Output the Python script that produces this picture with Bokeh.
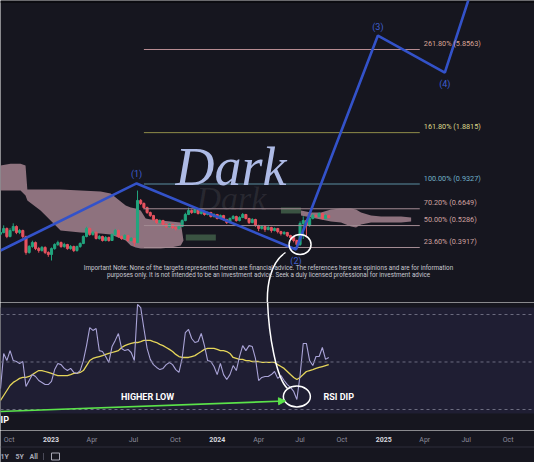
import math
import pandas as pd
from bokeh.plotting import figure
from bokeh.layouts import column
from bokeh.models import Range1d, Label, Span, BoxAnnotation, Arrow, NormalHead
from bokeh.embed import file_html
from bokeh.resources import INLINE

# ---------------- data ----------------
start_week = "2022-09-12"
open_first = 0.470
close = [0.481,0.508,0.455,0.494,0.522,0.481,0.494,0.455,0.366,0.397,
         0.419,0.386,0.376,0.392,0.366,0.356,0.386,0.408,0.419,0.397,
         0.408,0.386,0.397,0.376,0.397,0.414,0.455,0.508,0.468,0.481,
         0.443,0.455,0.431,0.449,0.431,0.468,0.494,0.455,0.443,0.461,
         0.431,0.443,0.419,0.745,0.715,0.676,0.632,0.606,0.574,0.551,
         0.566,0.536,0.522,0.536,0.515,0.508,0.522,0.566,0.615,0.649,
         0.632,0.658,0.623,0.640,0.615,0.632,0.598,0.615,0.582,0.606,
         0.574,0.551,0.582,0.598,0.566,0.590,0.615,0.582,0.551,0.574,
         0.529,0.508,0.522,0.501,0.515,0.494,0.508,0.487,0.474,0.481,
         0.461,0.449,0.431,0.408,0.544,0.566,0.529,0.582,0.606,0.598,
         0.623,0.582,0.606,0.590]
high = [0.50,0.53,0.515,0.51,0.545,0.53,0.505,0.50,0.46,0.405,
        0.43,0.425,0.395,0.40,0.398,0.372,0.392,0.415,0.43,0.425,
        0.418,0.412,0.405,0.402,0.402,0.42,0.462,0.52,0.515,0.49,
        0.488,0.465,0.46,0.458,0.455,0.475,0.505,0.50,0.462,0.47,
        0.466,0.452,0.448,0.853,0.76,0.725,0.685,0.64,0.612,0.58,
        0.575,0.572,0.545,0.545,0.542,0.522,0.53,0.575,0.63,0.675,
        0.66,0.67,0.665,0.65,0.648,0.64,0.638,0.625,0.62,0.615,
        0.612,0.58,0.59,0.61,0.605,0.60,0.628,0.62,0.588,0.585,
        0.58,0.535,0.53,0.528,0.525,0.52,0.515,0.512,0.492,0.49,
        0.485,0.466,0.455,0.436,0.56,0.60,0.575,0.595,0.62,0.615,
        0.632,0.63,0.615,0.612]
low = [0.46,0.475,0.445,0.45,0.488,0.47,0.47,0.445,0.355,0.36,
       0.39,0.378,0.365,0.37,0.358,0.345,0.328,0.38,0.40,0.39,
       0.39,0.38,0.38,0.368,0.37,0.39,0.41,0.45,0.46,0.46,
       0.437,0.436,0.425,0.426,0.424,0.428,0.462,0.448,0.435,0.438,
       0.425,0.426,0.40,0.415,0.70,0.66,0.62,0.595,0.565,0.54,
       0.545,0.528,0.51,0.515,0.505,0.495,0.50,0.518,0.56,0.61,
       0.62,0.625,0.615,0.615,0.605,0.608,0.59,0.59,0.575,0.578,
       0.565,0.54,0.545,0.575,0.558,0.56,0.585,0.575,0.54,0.545,
       0.52,0.49,0.50,0.485,0.495,0.48,0.488,0.475,0.462,0.465,
       0.452,0.44,0.42,0.383,0.40,0.44,0.45,0.52,0.575,0.59,
       0.592,0.575,0.578,0.585]
rsi = [38.8,53.6,50.6,54.8,50.6,50.2,49.4,50.2,39.7,42.2,
       44.7,43.9,42.2,41.4,40.5,40.5,41.8,46.8,49.4,48.9,
       47.3,46.4,47.3,45.6,45.2,46.4,50.6,56.9,64.5,63.3,
       64.1,54.8,54.4,52.3,49.8,56.5,59.1,62.0,55.7,54.8,
       55.3,54.0,50.6,74.2,72.9,64.1,55.7,51.1,48.9,47.7,
       46.8,47.3,48.9,49.8,48.9,46.8,45.6,51.5,62.4,63.7,
       59.9,58.2,58.6,62.0,56.9,50.6,50.2,48.1,44.7,49.4,
       44.7,42.6,44.7,48.5,46.4,52.3,56.9,54.8,56.9,56.5,
       51.5,42.2,43.5,43.9,43.9,44.7,46.0,43.1,44.3,42.2,
       40.5,39.3,37.6,34.2,44.3,57.8,57.8,50.6,48.5,52.3,
       52.3,56.1,51.1,51.9]
rsi_ma = [33.8,35.9,38.0,40.1,41.4,42.2,43.1,43.5,43.5,43.9,
          44.7,45.6,46.4,46.4,46.0,45.6,45.2,44.7,44.3,44.3,
          44.3,44.3,44.7,45.2,45.2,45.6,46.4,48.5,50.6,51.5,
          51.9,52.3,52.7,53.2,53.6,54.0,54.4,54.8,56.1,56.9,
          57.4,57.8,58.2,58.2,58.6,59.1,59.1,59.1,58.6,58.2,
          57.4,56.9,56.1,55.3,54.4,53.2,52.3,51.9,51.9,51.9,
          52.3,52.7,53.6,54.4,55.3,55.7,55.7,55.7,55.3,54.8,
          54.8,54.4,53.6,51.9,51.5,51.1,51.1,50.6,50.6,50.2,
          50.2,50.2,49.8,49.8,49.8,49.8,49.8,48.9,48.1,47.3,
          46.0,44.7,43.5,42.6,43.5,44.7,46.0,46.4,46.8,47.3,
          47.7,48.1,48.5,48.9]

cloud_a_dates = ["2022-09-12","2022-10-04","2022-10-26","2022-11-06","2022-11-10","2022-12-09",
                 "2023-01-22","2023-03-07","2023-04-20","2023-05-12","2023-05-23","2023-06-14",
                 "2023-06-25","2023-07-06","2023-07-17","2023-07-28","2023-08-08","2023-08-30",
                 "2023-09-21","2023-10-13","2023-10-19"]
cloud_a_upper = [1.20,1.23,1.23,1.20,0.865,0.865,0.865,0.853,0.842,0.819,0.776,0.695,
                 0.676,0.667,0.649,0.582,0.574,0.566,0.559,0.551,0.431]
cloud_a_lower = [0.853,0.853,0.853,0.797,0.745,0.649,0.494,0.481,0.474,0.468,0.455,0.431,
                 0.403,0.392,0.386,0.386,0.386,0.386,0.392,0.403,0.431]
cloud_b_dates = ["2024-07-03","2024-07-25","2024-08-16","2024-09-07","2024-09-29","2024-10-21",
                 "2024-11-01","2024-11-12","2024-12-04","2024-12-26","2025-01-17","2025-02-08",
                 "2025-03-02"]
cloud_b_upper = [0.649,0.632,0.632,0.658,0.667,0.667,0.658,0.632,0.606,0.598,0.598,0.598,0.590]
cloud_b_lower = [0.606,0.590,0.574,0.559,0.551,0.522,0.515,0.536,0.551,0.551,0.551,0.551,0.559]
cloud_g1_dates = ["2023-10-24","2023-12-29"]
cloud_g1_upper = [0.468,0.468]
cloud_g1_lower = [0.431,0.431]
cloud_g2_dates = ["2024-05-20","2024-07-03"]
cloud_g2_upper = [0.676,0.676]
cloud_g2_lower = [0.623,0.623]

wave_dates = ["2022-09-12","2023-07-08","2024-06-22","2024-12-19","2025-05-15","2025-07-16"]
wave_prices = [0.376,0.94,0.381,7.09,4.27,14.0]
wave_labels = ["(1)","(2)","(3)","(4)"]

fib_pct = ["23.60%","50.00%","70.20%","100.00%","161.80%","261.80%"]
fib_val = [0.3917,0.5286,0.6649,0.9327,1.8815,5.8563]
fib_start = "2023-07-24"
fib_end = "2025-03-21"

x_start, x_end = "2022-09-12", "2025-11-28"
tick_dates = ["2022-10-01","2023-01-01","2023-04-01","2023-07-01","2023-10-01","2024-01-01",
              "2024-04-01","2024-07-01","2024-10-01","2025-01-01","2025-04-01","2025-07-01","2025-10-01"]
tick_labels = ["Oct","2023","Apr","Jul","Oct","2024","Apr","Jul","Oct","2025","Apr","Jul","Oct"]
range_buttons = ["1Y", "5Y", "All"]

note_lines = ["Important Note: None of the targets represented herein are financial advice. The references here are opinions and are for information",
              "purposes only. It is not intended to be an investment advice. Seek a duly licensed professional for investment advice"]

# ---------------- styling ----------------
BG = "#16161f"
PANE = "#1f1e33"
UP, DOWN = "#22a57e", "#e6525f"
CLOUD = "#9b7c88"
WAVE = "#3352c9"
FONT = "Roboto"
W = 534


def day(s):
    return int(round((pd.Timestamp(s) - pd.Timestamp("1970-01-01")) / pd.Timedelta(days=1)))


X0, X1 = day(x_start), day(x_end)
P_TOP, P_BOT = 11.44, 0.1848
R_TOP, R_BOT = 75.05, 21.16


def rx(px):
    return X0 + px / 534 * (X1 - X0)


def rp(py):
    return math.exp(math.log(P_TOP) - py / 302 * math.log(P_TOP / P_BOT))


def rr(py):
    return R_TOP - (py - 302) / 128 * (R_TOP - R_BOT)


weeks = [day(start_week) + 7 * i for i in range(len(close))]
opens = [open_first] + close[:-1]
colors = [UP if c >= o else DOWN for o, c in zip(opens, close)]
tops = [max(o, c) for o, c in zip(opens, close)]
bots = [min(o, c) for o, c in zip(opens, close)]

# ---------------- price pane ----------------
p = figure(width=W, height=302, x_range=Range1d(X0, X1), y_range=Range1d(P_BOT, P_TOP),
           y_axis_type="log", toolbar_location=None, output_backend="svg",
           min_border=0, background_fill_color=BG, border_fill_color=BG, outline_line_color=None)
p.axis.visible = False
p.grid.visible = False
p.add_layout(BoxAnnotation(bottom=rp(2.5), top=P_TOP, fill_color="#0c0c11", fill_alpha=1.0,
                           line_color=None, level="underlay"))

# faint watermark
p.add_layout(Label(x=196, y=302 - 198, x_units="screen", y_units="screen", text="Dark",
                   text_font="Liberation Serif", text_font_style="italic", text_font_size="34px",
                   text_baseline="alphabetic", text_color="#8a8a92", text_alpha=0.16))

for dts, up, lo, col in [(cloud_a_dates, cloud_a_upper, cloud_a_lower, CLOUD),
                         (cloud_b_dates, cloud_b_upper, cloud_b_lower, CLOUD),
                         (cloud_g1_dates, cloud_g1_upper, cloud_g1_lower, "#3e5a46"),
                         (cloud_g2_dates, cloud_g2_upper, cloud_g2_lower, "#3e5a46")]:
    p.varea(x=[day(d) for d in dts], y1=lo, y2=up, fill_color=col, fill_alpha=0.9)

p.segment(x0=weeks, y0=low, x1=weeks, y1=high, line_color=colors, line_width=1)
p.vbar(x=weeks, width=4.6, top=tops, bottom=bots, fill_color=colors, line_color=colors)

fib_line_colors = ["#a48c94", "#a48c94", "#a48c94", "#5a8ea2", "#8f8c4a", "#b78c92"]
fib_text_colors = ["#cfa2a0", "#cfa2a0", "#cfa2a0", "#70b0c8", "#dcd98c", "#d9a496"]
p.segment(x0=[day(fib_start)] * len(fib_val), y0=fib_val, x1=[day(fib_end)] * len(fib_val),
          y1=fib_val, line_color=fib_line_colors, line_width=1)
for pct, v, tc in zip(fib_pct, fib_val, fib_text_colors):
    p.add_layout(Label(x=day(fib_end), y=v, x_offset=4, y_offset=6, text=f"{pct} ({v:.4f})",
                       text_baseline="middle", text_font=FONT, text_font_size="7.3px", text_color=tc))

wx = [day(d) for d in wave_dates]
p.line(wx, wave_prices, line_color=WAVE, line_width=2.6)
for i, lab in enumerate(wave_labels):
    k = i + 1
    off = 9 if k % 2 == 1 else -11
    p.add_layout(Label(x=wx[k], y=wave_prices[k], y_offset=off, text=lab, text_align="center",
                       text_baseline="middle", text_font=FONT, text_font_size="9px", text_color="#3f5fcf"))

p.add_layout(Label(x=175, y=302 - 166, x_units="screen", y_units="screen", text="Dark",
                   text_font="Liberation Serif", text_font_style="italic", text_font_size="54px",
                   text_baseline="alphabetic", text_color="#aebbe6"))

for j, line in enumerate(note_lines):
    p.add_layout(Label(x=268, y=302 - 267 - 7 * j, x_units="screen", y_units="screen",
                       text=line, text_align="center", text_baseline="middle", text_font=FONT,
                       text_font_size="6.3px", text_color="#c8c8d0"))

p.ellipse(x=[weeks[94]], y=[rp(244)], width=22, height=20, width_units="screen",
          height_units="screen", fill_alpha=0, line_color="white", line_width=1.5)
p.bezier(x0=[rx(285)], y0=[rp(252)], x1=[rx(267)], y1=[rp(305)], cx0=[rx(270)], cy0=[rp(262)],
         cx1=[rx(266)], cy1=[rp(285)], line_color="white", line_width=1.5)

# ---------------- RSI pane ----------------
p2 = figure(width=W, height=128, x_range=p.x_range, y_range=Range1d(R_BOT, R_TOP),
            toolbar_location=None, output_backend="svg", min_border=0,
            background_fill_color=BG, border_fill_color=BG, outline_line_color=None)
p2.axis.visible = False
p2.grid.visible = False

p2.add_layout(BoxAnnotation(bottom=rr(413), top=rr(307), fill_color=PANE, fill_alpha=1.0,
                            line_color=None, level="underlay"))
for lv in (70, 50, 30):
    p2.add_layout(Span(location=lv, dimension="width", line_color="#6c6c80", line_dash="3 3",
                       line_width=1))

p2.line(weeks, rsi_ma, line_color="#e6d65a", line_width=1.3)
p2.line(weeks, rsi, line_color="#aaa4d8", line_width=1.1)

GREEN = "#5be34a"
p2.add_layout(Arrow(end=NormalHead(size=7, fill_color=GREEN, line_color=GREEN),
                    x_start=rx(-5), y_start=rr(411.2), x_end=rx(285), y_end=rr(400.5),
                    line_color=GREEN, line_width=1.6))
p2.add_layout(Label(x=rx(147), y=rr(396), text="HIGHER LOW", text_align="center", text_baseline="middle",
                    text_font=FONT, text_font_style="bold", text_font_size="9px", text_color="white"))
p2.add_layout(Label(x=rx(323), y=rr(396), text="RSI DIP", text_align="left", text_baseline="middle",
                    text_font=FONT, text_font_style="bold", text_font_size="9px", text_color="white"))
p2.add_layout(Label(x=rx(0), y=rr(419), text="IP", text_align="left", text_baseline="middle",
                    text_font=FONT, text_font_style="bold", text_font_size="9px", text_color="white"))

p2.ellipse(x=[weeks[93]], y=[rr(396)], width=27, height=21, width_units="screen",
           height_units="screen", fill_alpha=0, line_color="white", line_width=1.5)
p2.bezier(x0=[rx(267)], y0=[rr(299)], x1=[rx(287)], y1=[rr(388)], cx0=[rx(268)], cy0=[rr(335)],
          cx1=[rx(276)], cy1=[rr(378)], line_color="white", line_width=1.5)

# ---------------- time scale + bottom bar ----------------
p3 = figure(width=W, height=32, x_range=p.x_range, y_range=Range1d(0, 32),
            toolbar_location=None, output_backend="svg", min_border=0,
            background_fill_color=BG, border_fill_color=BG, outline_line_color=None)
p3.axis.visible = False
p3.grid.visible = False
for d, lab in zip(tick_dates, tick_labels):
    is_year = lab.isdigit()
    p3.add_layout(Label(x=day(d), y=23, text=lab, text_align="center", text_baseline="middle",
                        text_font=FONT, text_font_size="7px",
                        text_font_style="bold" if is_year else "normal",
                        text_color="#d6d6de" if is_year else "#8c8c9c"))
p3.add_layout(Span(location=15.5, dimension="width", line_color="#2c2c3a", line_width=1))
for xx, t in zip([0, 15, 29], range_buttons):
    p3.add_layout(Label(x=xx, y=6, x_units="screen", text=t, text_baseline="middle", text_font=FONT,
                        text_font_size="7px", text_font_style="bold", text_color="#a8a8b6"))
p3.segment(x0=[rx(43)], y0=[2.5], x1=[rx(43)], y1=[9.5], line_color="#4a4a58")
p3.rect(x=[rx(55)], y=[6], width=8, height=7, width_units="screen", height_units="screen",
        fill_alpha=0, line_color="#a8a8b6", line_width=1)

layout = column(p, p2, p3, spacing=0)
open("out.html", "w").write(file_html(layout, INLINE, title="chart"))
